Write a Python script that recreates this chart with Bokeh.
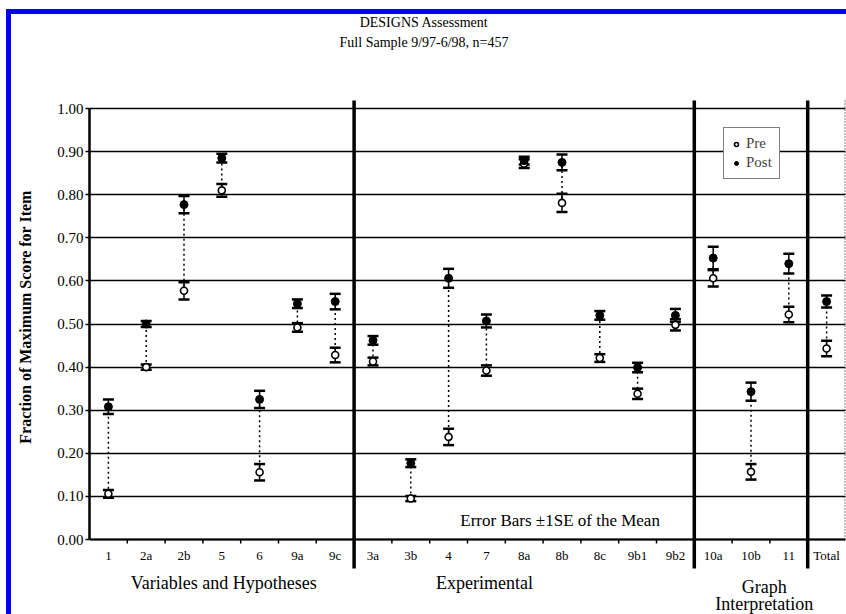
import numpy as np
from bokeh.plotting import figure
from bokeh.models import Range1d, FixedTicker, NumeralTickFormatter, ColumnDataSource, Legend, LegendItem
from bokeh.core.properties import value
from bokeh.embed import file_html
from bokeh.resources import INLINE

# ---------------- data ----------------
items = ["1", "2a", "2b", "5", "6", "9a", "9c",
         "3a", "3b", "4", "7", "8a", "8b", "8c", "9b1", "9b2",
         "10a", "10b", "11", "Total"]
groups = ["VH"] * 7 + ["EX"] * 9 + ["GI"] * 3 + ["TOT"]
pre_mean = [0.106, 0.400, 0.577, 0.810, 0.156, 0.492, 0.428,
            0.413, 0.095, 0.238, 0.392, 0.872, 0.781, 0.421, 0.338, 0.498,
            0.606, 0.157, 0.522, 0.443]
pre_se = [0.009, 0.006, 0.020, 0.015, 0.019, 0.010, 0.017,
          0.009, 0.006, 0.019, 0.012, 0.010, 0.021, 0.009, 0.012, 0.013,
          0.019, 0.018, 0.018, 0.018]
post_mean = [0.308, 0.500, 0.777, 0.885, 0.325, 0.547, 0.552,
             0.462, 0.177, 0.606, 0.507, 0.879, 0.875, 0.520, 0.399, 0.520,
             0.653, 0.343, 0.640, 0.552]
post_se = [0.017, 0.007, 0.020, 0.010, 0.020, 0.010, 0.018,
           0.010, 0.009, 0.022, 0.015, 0.009, 0.018, 0.010, 0.011, 0.015,
           0.026, 0.021, 0.023, 0.014]
y_ticks = [0.0, 0.1, 0.2, 0.3, 0.4, 0.5, 0.6, 0.7, 0.8, 0.9, 1.0]
group_labels = ["Variables and Hypotheses", "Experimental", "Graph", "Interpretation"]
title_lines = ["DESIGNS Assessment", "Full Sample 9/97-6/98, n=457"]
note_text = "Error Bars \u00b11SE of the Mean"
y_label = "Fraction of Maximum Score for Item"

# ---------------- layout helpers ----------------
SERIF = value("Liberation Serif")
PX = 431.0          # pixels per unit on y
Y0_PAGE = 539.0     # page y of value 0
def yv(page_y):
    return (Y0_PAGE - page_y) / PX

n = len(items)
xs = np.arange(n) + 0.5
pre_m = np.array(pre_mean); pre_e = np.array(pre_se)
post_m = np.array(post_mean); post_e = np.array(post_se)

src = ColumnDataSource(dict(
    x=xs, pre=pre_m, post=post_m,
    pre_lo=pre_m - pre_e, pre_hi=pre_m + pre_e,
    post_lo=post_m - post_e, post_hi=post_m + post_e,
))

p = figure(width=840, height=605,
           x_range=Range1d(0, n), y_range=Range1d(yv(619), yv(14)),
           output_backend="svg", toolbar_location=None,
           min_border_left=78, min_border_right=6, min_border_top=0, min_border_bottom=0,
           x_axis_location=None, title=None,
           styles={"border-top": "5px solid #0000ff", "border-left": "5px solid #0000ff",
                   "margin-top": "9px", "margin-left": "6px"})
p.outline_line_color = None
p.background_fill_color = "white"
p.border_fill_color = "white"
p.xgrid.visible = False

ticker = FixedTicker(ticks=y_ticks)
p.yaxis.ticker = ticker
p.ygrid.ticker = ticker
p.ygrid.grid_line_color = "black"
p.ygrid.grid_line_width = 1.6
p.yaxis.bounds = (0, 1)
p.yaxis.formatter = NumeralTickFormatter(format="0.00")
p.yaxis.axis_line_width = 2.5
p.yaxis.major_tick_line_width = 1.5
p.yaxis.major_tick_out = 4
p.yaxis.major_tick_in = 0
p.yaxis.minor_tick_out = 0
p.yaxis.minor_tick_in = 0
p.yaxis.major_label_standoff = 2
p.yaxis.major_label_text_font = "Liberation Serif"
p.yaxis.major_label_text_font_size = "15px"
p.yaxis.major_label_text_color = "black"
p.yaxis.axis_label = y_label
p.yaxis.axis_label_text_font = "Liberation Serif"
p.yaxis.axis_label_text_font_style = "bold"
p.yaxis.axis_label_text_font_size = "16px"
p.yaxis.axis_label_text_color = "black"
p.yaxis.axis_label_standoff = 20

# x axis line at 0 and small ticks at category boundaries
p.segment(x0=[0], x1=[n], y0=[0], y1=[0], line_color="black", line_width=2.2)
bounds = np.arange(1, n)
p.segment(x0=bounds, x1=bounds, y0=0, y1=yv(543), line_color="black", line_width=1.5)

# group separators
sep = [i for i in range(1, n) if groups[i] != groups[i - 1]]
p.segment(x0=sep, x1=sep, y0=yv(568), y1=yv(100), line_color="black", line_width=3.5)
# right frame edge (dotted)
p.segment(x0=[n], x1=[n], y0=yv(539), y1=yv(100), line_color="black", line_width=2, line_dash="1 2")

# dotted connectors pre -> post
p.segment(x0="x", x1="x", y0="pre", y1="post", source=src, line_color="black",
          line_width=1.5, line_dash="2 3")
# error bars
for lo, hi in (("pre_lo", "pre_hi"), ("post_lo", "post_hi")):
    p.segment(x0="x", x1="x", y0=lo, y1=hi, source=src, line_color="black", line_width=1.5)
    p.scatter(x="x", y=lo, source=src, marker="dash", size=11, line_color="black", line_width=2.5)
    p.scatter(x="x", y=hi, source=src, marker="dash", size=11, line_color="black", line_width=2.5)

pre_r = p.scatter(x="x", y="pre", source=src, marker="circle", size=7,
                  fill_color="white", line_color="black", line_width=1.6)
post_r = p.scatter(x="x", y="post", source=src, marker="circle", size=8,
                   fill_color="black", line_color="black", line_width=1)

# category labels
p.text(x=xs, y=yv(555), text=items, text_font=SERIF, text_font_size="13px",
       text_align="center", text_baseline="middle", text_color="black")

# group labels
gx = [3.55, 10.45, 17.85, 17.85]
gy = [yv(582), yv(582), yv(586), yv(603)]
p.text(x=gx, y=gy, text=group_labels, text_font=SERIF, text_font_size="18px",
       text_align="center", text_baseline="middle", text_color="black")

# note
p.text(x=[12.45], y=[yv(520)], text=[note_text], text_font=SERIF, text_font_size="17px",
       text_align="center", text_baseline="middle", text_color="black")

# title
p.text(x=[8.85, 8.85], y=[yv(22), yv(42)], text=title_lines, text_font=SERIF,
       text_font_size="14px", text_align="center", text_baseline="middle", text_color="black")

legend = Legend(items=[LegendItem(label="Pre", renderers=[pre_r]),
                       LegendItem(label="Post", renderers=[post_r])],
                location=(634, 440), orientation="vertical",
                border_line_color="black", border_line_width=1.5,
                background_fill_color="white", background_fill_alpha=1.0,
                label_text_font="Liberation Serif", label_text_font_size="15px",
                glyph_width=10, glyph_height=14, label_standoff=5,
                padding=7, spacing=2, margin=0)
p.add_layout(legend)

open("out.html", "w").write(file_html(p, INLINE))
